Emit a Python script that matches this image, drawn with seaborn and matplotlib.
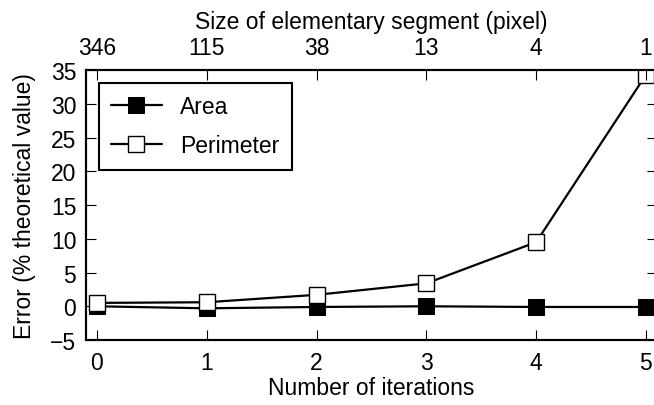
import matplotlib
matplotlib.use("Agg")
import matplotlib.pyplot as plt
import seaborn as sns
import pandas as pd

iterations = [0, 1, 2, 3, 4, 5]
area = [0.0, -0.3, -0.1, 0.0, -0.1, -0.1]
perimeter = [0.5, 0.6, 1.7, 3.4, 9.5, 34.3]
segment_labels = ["346", "115", "38", "13", "4", "1"]

sns.set_style("ticks")
plt.rcParams["font.family"] = ["Liberation Sans", "DejaVu Sans"]
FS = 16.5
plt.rcParams.update({
    "font.size": FS,
    "axes.linewidth": 1.5,
    "text.color": "black",
    "axes.labelcolor": "black",
    "axes.edgecolor": "black",
    "xtick.color": "black",
    "ytick.color": "black",
})

fig = plt.figure(figsize=(6.54, 4.06), dpi=100)
ax = fig.add_axes([0.1315, 0.160, 0.873, 0.665])

df_a = pd.DataFrame({"x": iterations, "y": area})
df_p = pd.DataFrame({"x": iterations, "y": perimeter})
sns.lineplot(data=df_a, x="x", y="y", ax=ax, color="black", lw=1.6, marker="s",
             markersize=11.5, markerfacecolor="black", markeredgecolor="black",
             label="Area")
sns.lineplot(data=df_p, x="x", y="y", ax=ax, color="black", lw=1.6, marker="s",
             markersize=11.5, markerfacecolor="white", markeredgecolor="black",
             markeredgewidth=1.0, label="Perimeter")

ax.set_xlim(-0.1, 5.1)
ax.set_ylim(-5, 35)
ax.set_xticks(iterations)
ax.set_yticks(range(-5, 36, 5))
ax.set_xlabel("Number of iterations", fontsize=FS, labelpad=1)
ax.set_ylabel("Error (% theoretical value)", fontsize=FS, labelpad=10)
ax.tick_params(axis="x", direction="in", top=False, length=7, width=0.8,
               labelsize=FS, pad=8)
ax.tick_params(axis="y", direction="in", right=True, length=7, width=0.8,
               labelsize=FS, pad=7)

ax2 = ax.twiny()
ax2.set_xlim(ax.get_xlim())
ax2.set_xticks(iterations)
ax2.set_xticklabels(segment_labels)
ax2.set_xlabel("Size of elementary segment (pixel)", fontsize=FS, labelpad=6)
ax2.tick_params(direction="in", length=7, width=0.8, labelsize=FS, pad=8)

for a in (ax, ax2):
    for s in a.spines.values():
        s.set_visible(True)
        s.set_linewidth(1.5)
        s.set_color("black")

leg = ax.legend(loc="upper left", fontsize=FS, frameon=True, fancybox=False,
                handlelength=2.2, handletextpad=0.8, borderpad=0.55,
                labelspacing=0.7, borderaxespad=0.55)
leg.get_frame().set_edgecolor("black")
leg.get_frame().set_linewidth(1.5)
leg.get_frame().set_alpha(1)

fig.savefig("out.png", dpi=100)
